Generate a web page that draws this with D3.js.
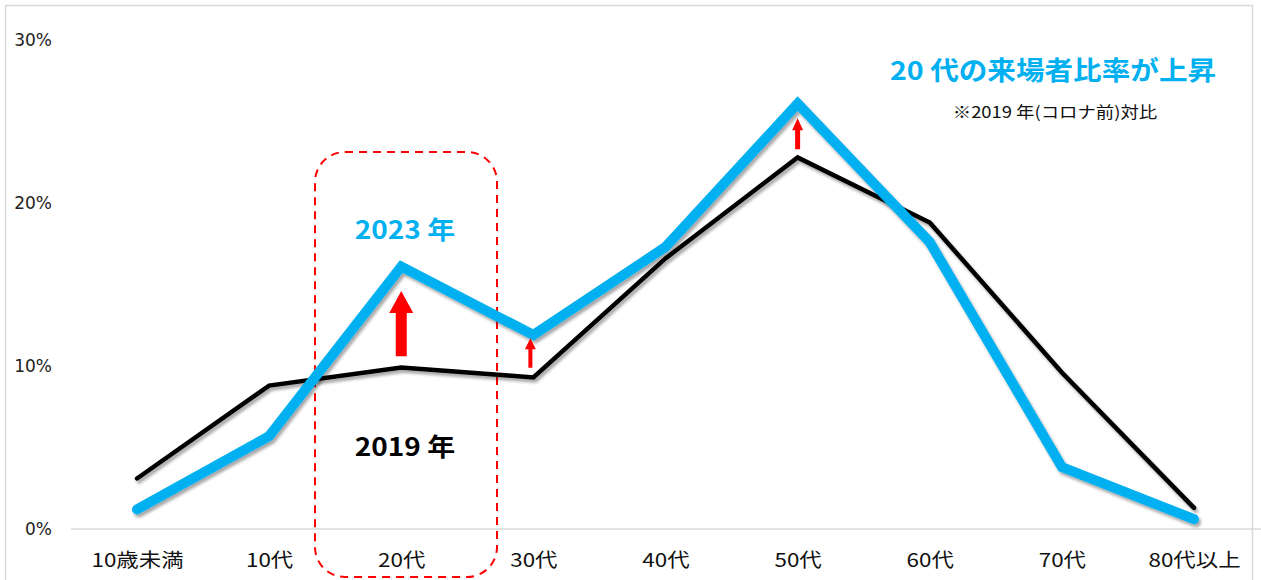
<!DOCTYPE html>
<html>
<head>
<meta charset="utf-8">
<script src="https://cdn.jsdelivr.net/npm/d3@7"></script>
<style>
  html, body { margin: 0; padding: 0; background: #fff; }
  svg { display: block; }
</style>
</head>
<body>
<svg id="chart" width="1261" height="580"></svg>
<script>
// Age groups and share of visitors (%) per year
const categories = ["10歳未満", "10代", "20代", "30代", "40代", "50代", "60代", "70代", "80代以上"];
const values2019 = [3.1, 8.8, 9.9, 9.3, 16.6, 22.8, 18.8, 9.6, 1.3];
const values2023 = [1.2, 5.7, 16.1, 11.9, 17.3, 26.1, 17.6, 3.8, 0.6];
const yTicks = [0, 10, 20, 30];
// Increase arrows: category, from (%), to (%)
const arrowCats = ["20代", "30代", "50代"];
const arrowFrom = [10.6, 9.9, 23.3];
const arrowTo = [14.6, 11.7, 25.2];

const svg = d3.select("#chart");
const W = 1261, H = 580;
const JP = "'Noto Sans CJK JP', 'Noto Sans', sans-serif";
const BLUE = "#00B0F0";

const x = d3.scalePoint().domain(categories).range([137, 1194]);
const y = d3.scaleLinear().domain([0, 30]).range([529, 40]);

// drop shadow for the series lines
const defs = svg.append("defs");
const f = defs.append("filter").attr("id", "shadow")
  .attr("x", "-5%").attr("y", "-10%").attr("width", "110%").attr("height", "120%");
f.append("feDropShadow").attr("dx", 2).attr("dy", 3).attr("stdDeviation", 1.8)
  .attr("flood-color", "#000").attr("flood-opacity", 0.35);

// outer frame
svg.append("rect").attr("x", 5.5).attr("y", 5.5).attr("width", 1247).attr("height", 620)
  .attr("fill", "none").attr("stroke", "#d9d9d9").attr("stroke-width", 1.5);

// baseline
svg.append("line").attr("x1", 71).attr("x2", W).attr("y1", y(0)).attr("y2", y(0))
  .attr("stroke", "#d9d9d9").attr("stroke-width", 1.5);

// y axis labels
const yAxis = svg.append("g").attr("transform", "translate(52,0)")
  .call(d3.axisLeft(y).tickValues(yTicks).tickFormat(d => d + "%").tickSize(0).tickPadding(0));
yAxis.select(".domain").remove();
yAxis.selectAll("text").attr("font-family", "'DejaVu Sans', Verdana, sans-serif")
  .attr("font-size", 17).attr("fill", "#222");

// x axis labels
const xAxis = svg.append("g").attr("transform", `translate(0,${y(0)})`)
  .call(d3.axisBottom(x).tickSize(0).tickPadding(0));
xAxis.select(".domain").remove();
xAxis.selectAll("text").attr("font-family", JP).attr("font-size", 19).attr("fill", "#111")
  .attr("dy", 0).attr("y", 0).attr("x", 0)
  .attr("transform", "translate(0,38) scale(1.18,1)");

// highlight box around 20代
svg.append("rect").attr("x", 315).attr("y", 152).attr("width", 182).attr("height", 425)
  .attr("rx", 30).attr("ry", 30)
  .attr("fill", "none").attr("stroke", "#ff0000").attr("stroke-width", 2)
  .attr("stroke-dasharray", "8,6");

const line = d3.line().x((d, i) => x(categories[i])).y(d => y(d));

svg.append("path").datum(values2019).attr("d", line)
  .attr("fill", "none").attr("stroke", "#000").attr("stroke-width", 4.5)
  .attr("stroke-linejoin", "miter").attr("stroke-linecap", "round")
  .attr("filter", "url(#shadow)");

svg.append("path").datum(values2023).attr("d", line)
  .attr("fill", "none").attr("stroke", BLUE).attr("stroke-width", 10)
  .attr("stroke-linejoin", "miter").attr("stroke-linecap", "round")
  .attr("filter", "url(#shadow)");

// red increase arrows
const arrowStyle = [
  { shaft: 11, head: 24, headLen: 22, dx: 0 },
  { shaft: 4, head: 11, headLen: 11, dx: -3 },
  { shaft: 5, head: 11, headLen: 12, dx: 0 }
];
arrowCats.forEach((c, i) => {
  const s = arrowStyle[i];
  const cx = x(c) + s.dx, yb = y(arrowFrom[i]), yt = y(arrowTo[i]);
  const yh = yt + s.headLen;
  const p = d3.path();
  p.moveTo(cx - s.shaft / 2, yb);
  p.lineTo(cx - s.shaft / 2, yh);
  p.lineTo(cx - s.head / 2, yh);
  p.lineTo(cx, yt);
  p.lineTo(cx + s.head / 2, yh);
  p.lineTo(cx + s.shaft / 2, yh);
  p.lineTo(cx + s.shaft / 2, yb);
  p.closePath();
  svg.append("path").attr("d", p.toString()).attr("fill", "#ff0000");
});

// series labels and headline
function label(tx, ty, txt, size, color, weight, sx) {
  svg.append("text").attr("transform", `translate(${tx},${ty}) scale(${sx},1)`)
    .attr("text-anchor", "middle").attr("font-family", JP)
    .attr("font-size", size).attr("font-weight", weight).attr("fill", color).text(txt);
}
label(405, 239, "2023 年", 25, BLUE, 700, 1.12);
label(405, 456, "2019 年", 25, "#000", 700, 1.12);
label(1053, 80, "20 代の来場者比率が上昇", 26, BLUE, 700, 1.1);
label(1055, 118, "※2019 年(コロナ前)対比", 16, "#111", 400, 1.15);
</script>
</body>
</html>
